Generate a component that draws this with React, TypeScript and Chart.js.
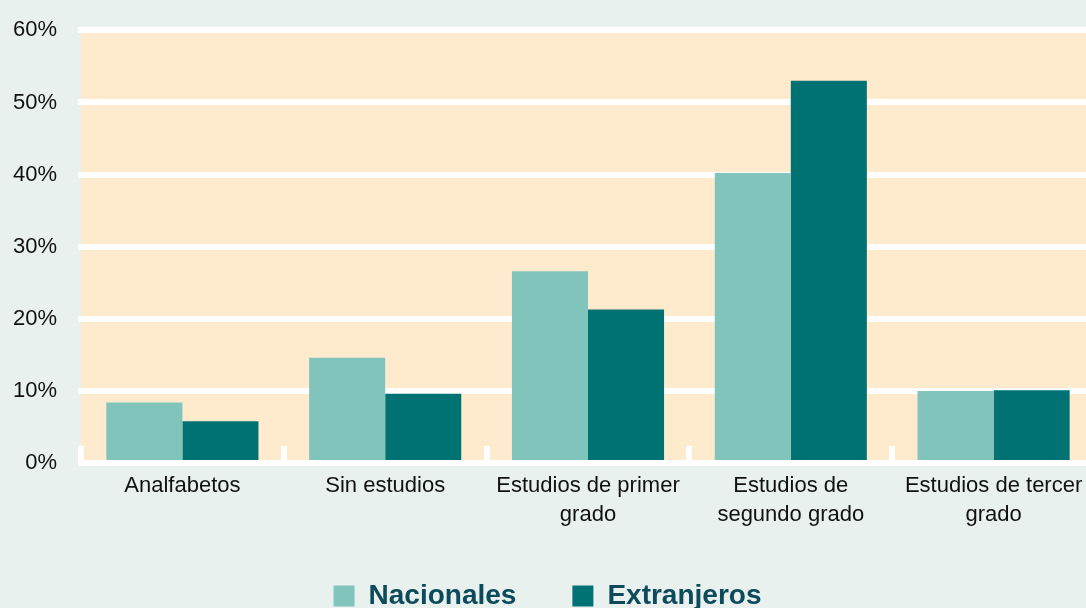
import React, { useEffect, useRef } from "react";
import { Chart, registerables } from "chart.js";

Chart.register(...registerables);

const categories: (string | string[])[] = [
  "Analfabetos",
  "Sin estudios",
  ["Estudios de primer", "grado"],
  ["Estudios de", "segundo grado"],
  ["Estudios de tercer", "grado"],
];
const seriesNames = ["Nacionales", "Extranjeros"];
const nacionales = [8.4, 14.6, 26.6, 40.2, 10.0];
const extranjeros = [5.8, 9.6, 21.3, 53.0, 10.1];
const yMin = 0;
const yMax = 60;
const yStep = 10;

const FONT = "'Liberation Sans', Arial, Helvetica, sans-serif";
const PAGE_BG = "#e8f1ee";
const PLOT_BG = "#feebce";
const NAC_COLOR = "#80c4bc";
const EXT_COLOR = "#007274";
const LEGEND_TEXT = "#0d4a5c";

const plotBackground = {
  id: "plotBackground",
  beforeDraw(chart: any) {
    const { ctx, chartArea } = chart;
    if (!chartArea) return;
    ctx.save();
    ctx.fillStyle = PLOT_BG;
    ctx.fillRect(chartArea.left, chartArea.top, chartArea.width, chartArea.height);
    ctx.restore();
  },
};

const boundaryTicks = {
  id: "boundaryTicks",
  beforeDatasetsDraw(chart: any) {
    const { ctx } = chart;
    const xs = chart.scales.x;
    const ys = chart.scales.y;
    const n = xs.ticks.length;
    const step = xs.width / n;
    const base = ys.getPixelForValue(0);
    ctx.save();
    ctx.fillStyle = "#ffffff";
    for (let i = 0; i <= n; i++) {
      const px = Math.round(xs.left + i * step);
      ctx.fillRect(px - 3, Math.round(base) - 17, 6, 17);
    }
    ctx.restore();
  },
};

export default function App() {
  const canvasRef = useRef<HTMLCanvasElement | null>(null);

  useEffect(() => {
    if (!canvasRef.current) return;
    const chart = new Chart(canvasRef.current, {
      type: "bar",
      data: {
        labels: categories as any,
        datasets: [
          {
            label: seriesNames[0],
            data: nacionales,
            backgroundColor: NAC_COLOR,
            borderWidth: 0,
            categoryPercentage: 0.75,
            barPercentage: 1.0,
          },
          {
            label: seriesNames[1],
            data: extranjeros,
            backgroundColor: EXT_COLOR,
            borderWidth: 0,
            categoryPercentage: 0.75,
            barPercentage: 1.0,
          },
        ],
      },
      options: {
        responsive: false,
        animation: false,
        devicePixelRatio: 1,
        layout: { padding: { top: 27, right: 1, bottom: 0, left: 0 } },
        plugins: {
          tooltip: { enabled: false },
          legend: {
            position: "bottom",
            labels: {
              boxWidth: 21,
              boxHeight: 21,
              padding: 56,
              color: LEGEND_TEXT,
              font: { family: FONT, size: 28, weight: "bold" },
            },
          },
        },
        scales: {
          x: {
            grid: { display: false, drawTicks: false, tickLength: 0 },
            border: { display: false },
            ticks: {
              color: "#111111",
              font: { family: FONT, size: 22, lineHeight: 1.3 },
              padding: 9,
              maxRotation: 0,
              autoSkip: false,
            },
            afterFit(scale: any) {
              scale.height = 63;
            },
          },
          y: {
            min: yMin,
            max: yMax,
            border: { display: false },
            grid: {
              color: "#ffffff",
              lineWidth: 6,
              drawTicks: true,
              tickLength: 3,
              tickColor: "#ffffff",
            },
            ticks: {
              stepSize: yStep,
              color: "#111111",
              font: { family: FONT, size: 22, lineHeight: 0.85 },
              padding: 21,
              callback: (v: any) => `${v}%`,
            },
            afterFit(scale: any) {
              scale.width = 81;
            },
          },
        },
      },
      plugins: [plotBackground, boundaryTicks],
    });
    return () => chart.destroy();
  }, []);

  return (
    <div
      style={{
        position: "fixed",
        left: 0,
        top: 0,
        width: 1086,
        height: 608,
        overflow: "hidden",
        background: PAGE_BG,
      }}
    >
      <canvas ref={canvasRef} width={1096} height={620} style={{ display: "block" }} />
    </div>
  );
}
